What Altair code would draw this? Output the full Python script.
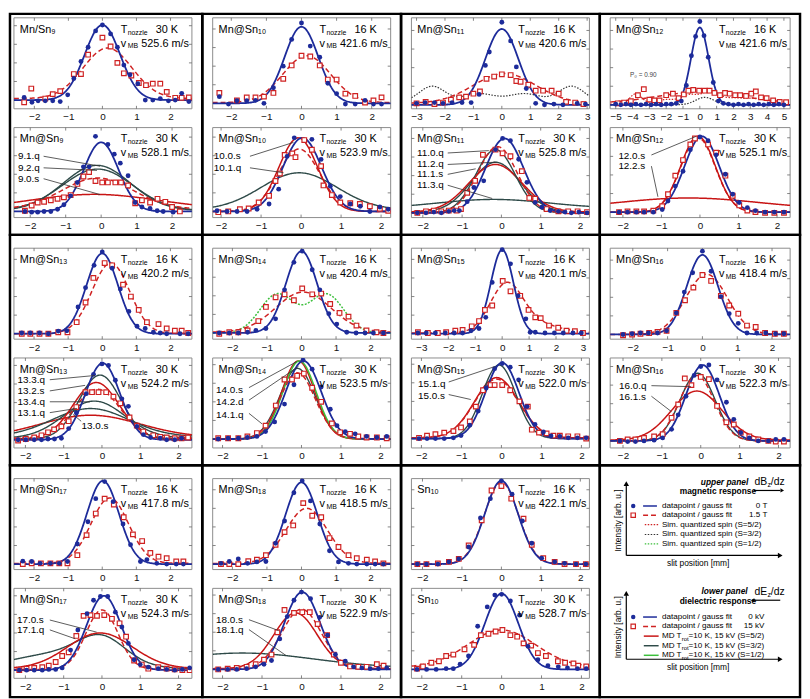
import altair as alt
import numpy as np
import pandas as pd

FONT = "Liberation Sans"
BLUE = "#1d2b9a"
RED = "#cf2222"
DARK = "#2e4a48"
GREEN = "#3cbf3c"

# ---------------- data (x in mm, y in arb. units) ----------------
# Mn/Sn9 upper
P1U_BX = [-2.30,-2.07,-1.89,-1.68,-1.46,-1.24,-1.02,-0.84,-0.63,-0.42,-0.20,0.0,0.24,0.44,0.63,0.81,1.04,1.26,1.48,1.70,1.94,2.14,2.33,2.54]
P1U_BY = [0.035,-0.03,-0.01,-0.01,-0.01,-0.02,0.07,0.29,0.52,0.71,0.93,1.01,0.89,0.71,0.47,0.34,0.22,0.0,0.0,0.02,-0.01,0.0,0.09,-0.02]
P1U_RX = [-2.30,-2.09,-1.68,-1.46,-1.24,-0.84,-0.63,-0.42,0.0,0.24,0.44,0.63,0.85,1.07,1.28,1.48,1.70,1.89,2.14,2.33,2.54]
P1U_RY = [-0.03,0.155,0.02,0.08,0.12,0.35,0.35,0.61,0.84,0.72,0.50,0.36,0.33,0.23,0.20,0.22,0.22,0.11,0.03,0.03,0.035]
# Mn@Sn9 lower
P1L_BX = [-2.15,-1.96,-1.79,-1.61,-1.42,-1.23,-1.05,-0.86,-0.67,-0.50,-0.34,-0.16,0.19,0.37,0.54,0.76,0.96,1.15,1.38,1.58,1.75,2.03]
P1L_BY = [0.0,-0.01,-0.01,0.0,0.0,0.03,0.09,0.21,0.39,0.60,0.60,1.01,0.90,0.77,0.65,0.48,0.12,0.06,0.04,0.01,0.0,-0.01]
P1L_RX = [-2.15,-1.96,-1.79,-1.61,-1.42,-1.23,-1.05,-0.86,-0.67,-0.50,-0.34,-0.16,0.03,0.19,0.40,0.56,0.76,0.96,1.15,1.38,1.59,1.81,2.0,2.22]
P1L_RY = [0.01,0.08,0.12,0.13,0.15,0.17,0.19,0.22,0.37,0.47,0.53,0.41,0.39,0.39,0.39,0.39,0.35,0.11,0.15,0.12,0.17,0.13,0.06,0.0]
# Mn@Sn10 upper
P2U_BX = [-2.34,-2.08,-1.84,-1.56,-1.31,-1.07,-0.80,-0.52,-0.28,0.0,0.25,0.52,0.75,1.0,1.25,1.53,1.81,2.05,2.28]
P2U_BY = [0.09,-0.01,0.035,0.035,0.04,0.0,0.21,0.50,0.86,1.08,0.77,0.62,0.27,0.13,-0.01,-0.01,0.04,-0.01,-0.01]
P2U_RX = [-2.34,-1.84,-1.56,-1.31,-1.07,-0.80,-0.52,-0.28,0.0,0.25,0.52,0.75,1.0,1.25,1.53,1.81,2.05,2.28]
P2U_RY = [0.14,0.04,0.08,0.08,0.09,0.14,0.33,0.51,0.64,0.63,0.51,0.32,0.32,0.13,0.10,0.01,0.04,0.08]
# Mn@Sn10 lower
P2L_BX = [-2.1,-1.85,-1.6,-1.35,-1.1,-0.8,-0.56,-0.35,-0.17,0.27,0.5,0.73,0.98,1.23,1.48,1.72,1.97,2.18]
P2L_BY = [0.01,0.0,0.0,0.0,0.03,0.10,0.30,0.74,0.99,0.97,0.70,0.34,0.20,0.10,0.07,0.0,0.06,0.03]
P2L_RX = [-2.07,-1.82,-1.53,-1.31,-1.06,-0.80,-0.64,-0.53,-0.41,-0.22,-0.14,0.08,0.27,0.5,0.56,0.77,0.98,1.23,1.47,1.72,1.97,2.18]
P2L_RY = [-0.01,0.0,0.03,0.04,0.12,0.21,0.41,0.51,0.76,0.78,0.73,0.96,0.83,0.61,0.35,0.22,0.12,0.11,0.10,0.07,0.035,0.01]
# Mn@Sn11 upper
P3U_BX = [-3.0,-2.7,-2.37,-2.07,-1.75,-1.4,-1.08,-0.8,-0.58,-0.44,0.0,0.31,0.51,0.86,1.19,1.5,1.83,2.15,2.65,2.94]
P3U_BY = [0.02,0.03,0.03,0.02,0.03,0.03,0.03,0.14,0.53,0.71,1.11,0.86,0.51,0.22,0.02,0.0,0.01,0.0,0.02,0.01]
P3U_RX = [-3.0,-2.68,-2.37,-2.07,-1.79,-1.5,-1.26,-1.0,-0.77,-0.54,-0.27,0.0,0.31,0.51,0.66,0.93,1.19,1.45,1.75,2.0,2.26,2.58,2.87]
P3U_RY = [0.02,0.04,0.01,0.03,0.07,0.10,0.11,0.15,0.18,0.35,0.38,0.41,0.40,0.32,0.31,0.27,0.19,0.19,0.19,0.15,0.04,0.03,0.01]
# Mn@Sn11 lower
P3L_BX = [-2.14,-1.92,-1.72,-1.53,-1.34,-1.2,-1.07,-0.87,-0.70,-0.45,-0.15,0.03,0.23,0.44,0.65,0.86,1.03,1.24,1.45,1.62,1.78,1.97,2.18]
P3L_BY = [0.0,0.0,0.01,0.0,0.02,0.03,0.03,0.15,0.34,0.43,0.85,1.0,0.97,0.72,0.41,0.14,0.075,0.03,0.02,0.01,0.0,0.01,0.0]
P3L_RX = [-2.14,-1.92,-1.72,-1.53,-1.34,-1.14,-1.03,-0.87,-0.67,-0.47,-0.15,0.03,0.23,0.52,0.71,0.86,1.15,1.45,1.70,1.94,2.18]
P3L_RY = [0.0,0.02,0.03,0.02,0.03,0.03,0.05,0.27,0.43,0.78,0.85,0.80,0.76,0.56,0.20,0.19,0.05,0.02,0.02,0.02,0.01]
# Mn@Sn12 upper
P4U_BX = [-5.0,-4.7,-4.4,-4.1,-3.8,-3.5,-3.2,-2.9,-2.6,-2.3,-2.0,-1.7,-1.4,-1.1,-0.8,-0.5,-0.25,0.0,0.25,0.5,0.8,1.1,1.4,1.7,2.0,2.3,2.6,2.9,3.2,3.5,3.8,4.1,4.4,4.7,5.0]
P4U_BY = [0.01,0.0,0.01,0.0,0.01,0.0,0.01,0.0,0.01,0.0,0.01,0.01,0.02,0.05,0.26,0.66,0.92,1.12,0.93,0.64,0.30,0.05,0.02,0.01,0.0,0.01,0.0,0.01,0.0,0.01,0.0,0.01,0.0,0.01,0.0]
P4U_RX = [-4.88,-4.5,-4.1,-3.68,-3.33,-3.0,-2.7,-2.4,-2.0,-1.6,-1.26,-0.95,-0.68,-0.39,-0.04,0.29,0.58,0.87,1.2,1.5,1.78,2.1,2.4,2.75,3.06,3.33,3.64,3.97,4.36,4.75,5.13]
P4U_RY = [0.02,0.03,0.05,0.13,0.21,0.07,0.06,0.06,0.13,0.15,0.09,0.14,0.19,0.20,0.19,0.19,0.19,0.16,0.13,0.16,0.15,0.13,0.13,0.12,0.15,0.18,0.10,0.09,0.06,0.04,0.035]
# Mn@Sn12 lower
P4L_BX = [-2.1,-1.88,-1.65,-1.45,-1.21,-0.98,-0.83,-0.64,-0.44,-0.25,0.0,0.21,0.42,0.66,0.85,1.02,1.23,1.44,1.69,1.93,2.18]
P4L_BY = [0.0,0.0,0.0,0.0,0.0,0.035,0.15,0.35,0.55,0.84,1.01,0.96,0.77,0.51,0.24,0.13,0.06,0.02,0.0,0.0,0.0]
P4L_RX = [-2.1,-1.88,-1.65,-1.45,-1.21,-0.98,-0.83,-0.64,-0.44,-0.25,-0.13,0.21,0.42,0.66,0.85,1.02,1.23,1.44,1.69,1.93,2.18]
P4L_RY = [0.0,0.01,0.01,0.01,0.02,0.08,0.24,0.49,0.70,0.91,0.99,0.91,0.80,0.49,0.22,0.09,0.02,0.0,-0.01,-0.01,-0.01]
# Mn@Sn13 upper
P5U_BX = [-2.36,-2.11,-1.84,-1.58,-1.29,-1.04,-0.71,-0.49,-0.24,0.0,0.29,0.53,0.78,1.02,1.26,1.5,1.7,1.89,2.28,2.52]
P5U_BY = [0.01,0.01,0.01,0.0,0.035,0.04,0.36,0.62,0.92,1.1,0.88,0.6,0.3,0.1,0.07,0.02,0.01,0.0,0.0,0.0]
P5U_RX = [-2.36,-2.11,-1.84,-1.58,-1.29,-1.02,-0.75,-0.49,-0.26,0.07,0.29,0.61,0.84,1.07,1.31,1.65,1.89,2.13,2.33,2.52]
P5U_RY = [0.0,0.0,0.0,0.0,0.02,0.02,0.155,0.42,0.75,0.95,0.92,0.66,0.50,0.32,0.155,0.13,0.07,0.04,0.04,0.01]
# Mn@Sn13 lower
P5L_BX = [-2.19,-1.99,-1.77,-1.58,-1.41,-1.24,-1.06,-0.87,-0.67,-0.41,-0.22,0.0,0.17,0.35,0.52,0.69,0.91,1.08,1.27,1.52,1.69,1.90,2.08]
P5L_BY = [0.0,0.0,0.0,0.0,0.01,0.01,0.02,0.15,0.36,0.62,0.88,1.02,1.0,0.8,0.55,0.45,0.18,0.07,0.03,0.02,0.0,0.0,0.02]
P5L_RX = [-2.19,-1.99,-1.77,-1.58,-1.41,-1.25,-1.06,-0.87,-0.67,-0.43,-0.26,-0.09,0.11,0.30,0.48,0.72,0.91,1.08,1.34,1.52,1.69,1.90,2.08,2.25]
P5L_RY = [-0.01,0.01,0.03,0.06,0.10,0.14,0.18,0.25,0.44,0.64,0.64,0.64,0.64,0.58,0.49,0.30,0.19,0.11,0.06,0.04,0.03,0.02,0.02,0.03]
# Mn@Sn14 upper
P6U_BX = [-2.38,-2.09,-1.83,-1.56,-1.32,-1.03,-0.75,-0.49,-0.22,0.02,0.31,0.53,0.79,1.02,1.31,1.58,1.84,2.08,2.37]
P6U_BY = [0.0,0.0,0.0,0.01,0.035,0.06,0.19,0.58,0.95,1.1,0.85,0.58,0.26,0.12,0.01,0.0,0.0,0.0,0.0]
P6U_RX = [-2.38,-2.09,-1.83,-1.56,-1.25,-1.03,-0.75,-0.49,-0.22,0.02,0.31,0.57,0.83,1.10,1.36,1.59,1.88,2.17,2.37]
P6U_RY = [-0.01,0.01,0.01,0.035,0.16,0.35,0.48,0.52,0.44,0.60,0.52,0.53,0.39,0.27,0.22,0.10,0.035,0.01,0.0]
# Mn@Sn14 lower
P6L_BX = [-2.11,-1.86,-1.60,-1.37,-1.13,-0.91,-0.68,-0.43,-0.19,0.04,0.27,0.50,0.73,0.90,1.11,1.36,1.65,1.91,2.16]
P6L_BY = [0.0,0.01,0.01,0.02,0.035,0.10,0.23,0.47,0.73,1.06,0.94,0.70,0.40,0.18,0.10,0.07,0.035,0.02,0.035]
P6L_RX = [-2.11,-1.86,-1.60,-1.37,-1.13,-0.91,-0.65,-0.43,-0.24,-0.11,0.06,0.27,0.50,0.77,0.98,1.23,1.44,1.65,1.91,2.16]
P6L_RY = [0.01,0.01,0.01,0.035,0.08,0.18,0.45,0.80,0.80,0.85,0.88,0.69,0.50,0.21,0.09,0.07,0.035,0.02,0.02,0.01]
# Mn@Sn15 upper
P7U_BX = [-3.13,-2.82,-2.48,-2.11,-1.78,-1.47,-1.16,-0.86,-0.61,-0.37,0.0,0.31,0.59,0.88,1.04,1.23,1.59,1.94,2.27,2.63,2.94]
P7U_BY = [0.01,0.01,0.01,0.01,0.01,0.01,0.04,0.07,0.22,0.69,1.13,0.94,0.51,0.20,0.02,0.02,0.01,0.01,0.01,0.01,0.01]
P7U_RX = [-3.13,-2.76,-2.39,-2.08,-1.74,-1.47,-1.13,-0.86,-0.64,-0.37,0.02,0.31,0.67,0.98,1.23,1.43,1.74,2.08,2.39,2.70,3.0]
P7U_RY = [0.02,0.01,0.01,0.02,0.04,0.05,0.10,0.17,0.32,0.38,0.71,0.57,0.51,0.32,0.22,0.21,0.11,0.08,0.04,0.035,0.01]
# Mn@Sn15 lower
P7L_BX = [-2.06,-1.86,-1.65,-1.43,-1.20,-1.01,-0.79,-0.58,-0.38,-0.17,0.02,0.22,0.43,0.64,0.84,1.05,1.24,1.46,1.67,1.90,2.12]
P7L_BY = [0.0,0.0,0.0,0.0,0.01,0.04,0.18,0.37,0.68,0.94,1.01,0.96,0.79,0.43,0.19,0.09,0.035,0.03,0.01,0.01,0.01]
P7L_RX = [-2.06,-1.86,-1.65,-1.43,-1.20,-1.01,-0.79,-0.64,-0.46,-0.27,-0.17,0.02,0.22,0.45,0.66,0.76,0.94,1.13,1.30,1.46,1.67,1.90,2.12]
P7L_RY = [0.01,0.04,0.06,0.08,0.10,0.15,0.23,0.43,0.65,0.72,0.72,0.72,0.65,0.50,0.43,0.12,0.08,0.07,0.04,0.04,0.03,0.03,0.0]
# Mn@Sn16 upper
P8U_BX = [-2.28,-2.02,-1.78,-1.55,-1.29,-1.03,-0.75,-0.52,-0.28,0.0,0.25,0.53,0.77,1.03,1.28,1.56,1.82,2.10,2.34]
P8U_BY = [0.0,0.01,0.02,0.02,0.02,0.05,0.29,0.57,0.83,1.12,0.85,0.51,0.28,0.15,0.02,0.02,0.02,0.01,0.01]
P8U_RX = [-2.28,-2.02,-1.78,-1.53,-1.29,-1.03,-0.75,-0.50,-0.26,0.0,0.25,0.53,0.77,1.03,1.28,1.53,1.80,2.08,2.34]
P8U_RY = [-0.01,0.0,0.01,0.02,0.035,0.05,0.29,0.46,0.63,0.80,0.72,0.52,0.39,0.28,0.12,0.10,0.02,0.01,0.01]
# Mn@Sn16 lower
P8L_BX = [-2.08,-1.88,-1.68,-1.46,-1.20,-0.98,-0.75,-0.58,-0.38,-0.17,0.0,0.21,0.42,0.66,0.85,1.03,1.25,1.48,1.74,1.93,2.14]
P8L_BY = [0.0,-0.01,-0.01,0.0,0.01,0.04,0.155,0.35,0.60,0.88,1.0,1.02,0.82,0.52,0.29,0.11,0.04,0.0,0.0,0.02,0.02]
P8L_RX = [-2.08,-1.88,-1.68,-1.46,-1.20,-0.98,-0.75,-0.58,-0.41,-0.24,0.0,0.21,0.42,0.66,0.85,1.03,1.25,1.48,1.74,1.93,2.14]
P8L_RY = [0.0,0.02,0.02,0.04,0.06,0.09,0.31,0.49,0.84,0.75,0.86,0.83,0.47,0.25,0.22,0.11,0.06,0.02,0.0,-0.01,-0.01]
# Mn@Sn17 upper
P9U_BX = [-2.33,-2.07,-1.82,-1.52,-1.26,-1.02,-0.73,-0.42,-0.19,0.07,0.32,0.61,0.83,1.12,1.31,1.60,1.89,2.17,2.38]
P9U_BY = [0.04,0.035,0.01,0.01,0.01,0.035,0.27,0.57,0.88,1.11,0.84,0.54,0.26,0.035,0.06,0.01,0.0,0.0,0.0]
P9U_RX = [-2.33,-2.07,-1.80,-1.52,-1.26,-1.02,-0.73,-0.46,-0.19,0.07,0.34,0.63,0.90,1.17,1.41,1.65,1.89,2.17,2.38]
P9U_RY = [0.0,0.01,0.01,0.01,0.01,0.01,0.12,0.39,0.68,0.88,0.80,0.63,0.40,0.31,0.15,0.10,0.08,0.035,0.035]
# Mn@Sn17 lower
P9L_BX = [-2.16,-1.97,-1.77,-1.56,-1.39,-1.21,-1.04,-0.82,-0.63,-0.39,-0.22,-0.04,0.15,0.35,0.52,0.69,0.84,1.0,1.21,1.47,1.69,1.90,2.10,2.29]
P9L_BY = [0.0,0.0,0.0,0.0,0.01,0.01,0.03,0.27,0.54,0.76,0.94,0.99,0.99,0.78,0.58,0.36,0.14,0.075,0.04,0.02,0.01,0.0,0.01,0.03]
P9L_RX = [-2.16,-1.97,-1.77,-1.56,-1.39,-1.21,-1.04,-0.87,-0.67,-0.48,-0.30,-0.13,0.06,0.26,0.46,0.63,0.84,1.04,1.21,1.47,1.69,1.90,2.10,2.29]
P9L_RY = [0.0,0.02,0.03,0.04,0.06,0.11,0.19,0.24,0.46,0.73,0.74,0.73,0.74,0.69,0.63,0.45,0.13,0.075,0.02,0.04,0.02,0.01,0.0,0.0]
# Mn@Sn18 upper
P10U_BX = [-2.33,-2.09,-1.83,-1.56,-1.29,-1.03,-0.75,-0.49,-0.22,0.02,0.26,0.53,0.81,1.07,1.36,1.60,1.89,2.13,2.37]
P10U_BY = [0.01,0.035,0.07,0.01,0.03,0.035,0.28,0.58,0.96,1.12,0.85,0.54,0.18,0.03,0.01,0.0,0.0,0.0,0.0]
P10U_RX = [-2.33,-2.09,-1.83,-1.54,-1.29,-1.03,-0.75,-0.49,-0.24,0.05,0.31,0.57,0.81,1.07,1.36,1.60,1.89,2.13,2.37]
P10U_RY = [0.0,0.0,0.0,0.04,0.06,0.12,0.26,0.43,0.52,0.82,0.65,0.63,0.35,0.23,0.12,0.08,0.06,0.035,0.01]
# Mn@Sn18 lower
P10L_BX = [-2.11,-1.87,-1.64,-1.39,-1.16,-0.95,-0.76,-0.55,-0.36,-0.19,0.0,0.23,0.46,0.66,0.86,1.11,1.32,1.53,1.74,1.95,2.16]
P10L_BY = [0.0,0.0,0.0,0.01,0.035,0.07,0.12,0.41,0.71,0.93,1.04,0.95,0.70,0.46,0.20,0.11,0.035,0.02,0.01,0.01,0.02]
P10L_RX = [-2.11,-1.87,-1.64,-1.39,-1.16,-0.95,-0.76,-0.61,-0.43,-0.19,0.02,0.21,0.41,0.65,0.82,1.0,1.23,1.44,1.65,1.91,2.08]
P10L_RY = [0.0,0.01,0.02,0.035,0.07,0.13,0.20,0.50,0.80,0.76,0.77,0.77,0.61,0.46,0.20,0.09,0.04,0.035,0.035,0.07,0.05]
# Sn10 upper
P11U_BX = [-2.13,-1.90,-1.61,-1.33,-1.08,-0.83,-0.53,-0.28,0.0,0.27,0.53,0.77,1.02,1.35,1.60,1.89,2.14]
P11U_BY = [0.0,0.0,0.0,0.03,0.07,0.23,0.62,0.88,1.12,0.94,0.58,0.28,0.08,0.03,0.01,0.0,0.0]
P11U_RX = [-2.13,-1.90,-1.61,-1.33,-1.08,-0.83,-0.50,-0.25,0.0,0.25,0.56,0.77,1.06,1.35,1.60,1.89,2.14]
P11U_RY = [0.0,0.0,0.01,0.03,0.07,0.25,0.59,0.99,1.05,0.88,0.61,0.26,0.08,0.03,0.0,0.0,0.0]
# Sn10 lower
P11L_BX = [-2.12,-1.88,-1.64,-1.39,-1.21,-1.04,-0.83,-0.60,-0.36,-0.17,0.0,0.22,0.45,0.66,0.91,1.16,1.42,1.65,1.90,2.12]
P11L_BY = [0.0,0.0,0.0,0.01,0.01,0.07,0.18,0.58,0.84,1.0,1.01,0.92,0.73,0.31,0.13,0.05,0.035,0.02,0.01,0.01]
P11L_RX = [-2.12,-1.97,-1.76,-1.57,-1.39,-1.21,-0.93,-0.69,-0.52,-0.33,-0.15,0.02,0.22,0.39,0.55,0.74,0.91,1.11,1.41,1.59,1.80,1.92,2.12]
P11L_RY = [0.01,0.04,0.09,0.11,0.18,0.20,0.27,0.33,0.46,0.48,0.51,0.53,0.46,0.44,0.35,0.32,0.22,0.18,0.11,0.09,0.08,0.05,0.04]

# Gaussian fit / simulation parameters: (style, offset, [(amplitude, centre, sigma), ...])
P1U_FIT = [("rdash", 0.02, [(0.68, 0.15, 0.72)]), ("blue", 0.0, [(1.01, 0.0, 0.52)])]
P1L_FIT = [("red", 0.03, [(0.2, -0.2, 1.8)]), ("dark", 0.01, [(0.61, -0.12, 0.95)]), ("dark", 0.01, [(0.56, -0.1, 1.0)]),
           ("rdash", 0.03, [(0.42, -0.1, 1.0)]), ("blue", 0.0, [(0.93, 0.0, 0.49)])]
P2U_FIT = [("rdash", 0.01, [(0.63, 0.15, 0.68)]), ("blue", 0.0, [(1.03, 0.0, 0.48)])]
P2L_FIT = [("dark", 0.02, [(0.5, -0.05, 0.95)]), ("rdash", 0.0, [(0.84, -0.05, 0.52)]), ("red", 0.0, [(0.99, -0.07, 0.48)]),
           ("blue", 0.0, [(0.99, 0.03, 0.48)])]
P3U_FIT = [("kdot", 0.04, [(0.21, -2.45, 0.45), (0.21, 2.45, 0.45), (0.11, -0.8, 0.55), (0.11, 0.8, 0.55)]),
           ("rdash", 0.02, [(0.40, 0.1, 1.1)]), ("blue", 0.0, [(1.02, 0.0, 0.58)])]
P3L_FIT = [("dark", 0.06, [(0.12, -0.2, 1.4)]), ("dark", 0.01, [(0.67, -0.15, 0.62)]), ("red", 0.01, [(0.64, -0.15, 0.68)]),
           ("dark", 0.0, [(0.85, -0.15, 0.5)]), ("rdash", 0.0, [(0.89, -0.1, 0.5)]), ("blue", 0.0, [(1.0, 0.08, 0.48)])]
P4U_FIT = [("kdot", 0.0, [(0.10, 0.3, 0.55)]),
           ("rdot", 0.01, [(0.14, -3.8, 0.35), (0.06, -2.0, 0.6), (0.12, -0.6, 0.5), (0.15, 0.6, 0.5), (0.08, 2.0, 0.8), (0.06, 3.5, 0.6)]),
           ("rdash", 0.02, [(0.15, 0.0, 2.6)]), ("blue", 0.0, [(1.04, 0.0, 0.52)])]
P4L_FIT = [("red", 0.04, [(0.15, -0.3, 1.8)]), ("rdash", 0.0, [(1.0, -0.05, 0.45)]), ("red", 0.0, [(1.02, -0.05, 0.45)]),
           ("blue", 0.0, [(1.02, 0.05, 0.45)])]
P5U_FIT = [("rdash", 0.0, [(0.95, 0.25, 0.55)]), ("blue", 0.0, [(1.08, 0.0, 0.46)])]
P5L_FIT = [("red", 0.03, [(0.3, -0.3, 1.3)]), ("dark", 0.04, [(0.38, -0.3, 1.0)]), ("dark", 0.02, [(0.5, -0.2, 0.8)]),
           ("red", 0.01, [(0.76, -0.15, 0.6)]), ("dark", 0.01, [(0.86, -0.05, 0.55)]), ("rdash", 0.02, [(0.66, -0.12, 0.6)]),
           ("blue", 0.0, [(1.03, 0.02, 0.45)])]
P6U_FIT = [("gdot", 0.0, [(0.52, -0.7, 0.5), (0.52, 0.72, 0.5)]), ("rdash", 0.01, [(0.54, 0.05, 0.8)]), ("blue", 0.0, [(1.1, 0.0, 0.45)])]
P6L_FIT = [("dark", 0.0, [(0.95, -0.1, 0.45)]), ("red", 0.0, [(1.05, -0.08, 0.42)]), ("green", 0.0, [(1.05, -0.05, 0.42)]),
           ("rdash", 0.0, [(0.89, -0.1, 0.45)]), ("blue", 0.0, [(1.05, 0.05, 0.45)])]
P7U_FIT = [("rdash", 0.01, [(0.62, 0.15, 0.6), (0.12, 1.2, 0.9)]), ("blue", 0.0, [(1.13, 0.0, 0.42)])]
P7L_FIT = [("red", 0.01, [(0.81, -0.12, 0.55)]), ("rdash", 0.01, [(0.79, -0.12, 0.55)]), ("dark", 0.0, [(0.99, -0.06, 0.42)]),
           ("blue", 0.0, [(1.02, 0.02, 0.42)])]
P8U_FIT = [("rdash", 0.0, [(0.81, 0.12, 0.6)]), ("blue", 0.0, [(1.07, 0.0, 0.45)])]
P8L_FIT = [("red", 0.01, [(0.66, -0.1, 0.65)]), ("dark", 0.0, [(0.91, -0.08, 0.45)]), ("rdash", 0.0, [(0.88, -0.1, 0.45)]),
           ("blue", 0.0, [(1.02, 0.05, 0.43)])]
P9U_FIT = [("rdash", 0.01, [(0.88, 0.22, 0.55)]), ("blue", 0.0, [(1.12, 0.02, 0.47)])]
P9L_FIT = [("dark", 0.01, [(0.3, 0.0, 0.6), (0.22, -1.0, 1.3)]), ("red", 0.02, [(0.48, -0.05, 0.85)]),
           ("rdash", 0.01, [(0.8, 0.0, 0.42)]), ("blue", 0.0, [(1.0, 0.05, 0.45)])]
P10U_FIT = [("rdash", 0.01, [(0.74, 0.15, 0.6)]), ("blue", 0.0, [(1.1, 0.0, 0.46)])]
P10L_FIT = [("dark", 0.02, [(0.2, -1.5, 1.8)]), ("red", 0.01, [(0.75, -0.15, 0.55)]), ("rdash", 0.01, [(0.8, 0.0, 0.5)]),
            ("blue", 0.0, [(1.04, 0.02, 0.45)])]
P11U_FIT = [("rdash", 0.0, [(1.1, 0.0, 0.43)]), ("blue", 0.0, [(1.12, 0.0, 0.42)])]
P11L_FIT = [("rdash", 0.03, [(0.5, 0.0, 0.85)]), ("blue", 0.0, [(1.02, 0.0, 0.42)])]

TICKS2 = [-2, -1, 0, 1, 2]
TICKS3 = [-3, -2, -1, 0, 1, 2, 3]
TICKS5 = [-5, -4, -3, -2, -1, 0, 1, 2, 3, 4, 5]
YTICKS = [0.0, 0.25, 0.5, 0.75, 1.0]

# ---------------- styles ----------------
STYLE = {
    "blue": dict(color=BLUE, strokeWidth=1.8),
    "rdash": dict(color=RED, strokeWidth=1.5, strokeDash=[5, 3]),
    "red": dict(color="#c81414", strokeWidth=1.5),
    "dark": dict(color=DARK, strokeWidth=1.4),
    "green": dict(color=GREEN, strokeWidth=1.5),
    "rdot": dict(color=RED, strokeWidth=1.2, strokeDash=[1.5, 1.5]),
    "kdot": dict(color="#333333", strokeWidth=1.2, strokeDash=[1.5, 1.5]),
    "gdot": dict(color=GREEN, strokeWidth=1.5, strokeDash=[2, 1.5]),
}
PX_PER_UNIT = 75.2
FRAME = "#8c8c8c"
ONE = pd.DataFrame({"k": [0]})


def curve_df(xd, off, comps, n=220):
    xs = np.linspace(xd[0], xd[1], n)
    ys = np.full(n, off, dtype=float)
    for a, c, s in comps:
        ys = ys + a * np.exp(-(xs - c) ** 2 / (2 * s * s))
    return pd.DataFrame({"x": xs, "y": ys})


def T(s, x, y, size=11, align="left", weight="normal", style="normal", angle=None, color="black"):
    kw = dict(text=s, align=align, baseline="middle", fontSize=size, font=FONT, color=color,
              fontWeight=weight, fontStyle=style)
    if angle is not None:
        kw["angle"] = angle
    return alt.Chart(ONE).mark_text(**kw).encode(x=alt.value(x), y=alt.value(y))


def R(x1, y1, x2, y2, color="#333333", width=0.8, dash=None):
    kw = dict(color=color, strokeWidth=width)
    if dash:
        kw["strokeDash"] = dash
    return alt.Chart(ONE).mark_rule(**kw).encode(x=alt.value(x1), y=alt.value(y1), x2=alt.value(x2), y2=alt.value(y2))


def box(l, t, r, b, color="black", width=2.5):
    return alt.Chart(ONE).mark_rect(fill="white", fillOpacity=0, stroke=color, strokeWidth=width).encode(
        x=alt.value(l), y=alt.value(t), x2=alt.value(r), y2=alt.value(b))


def subpanel(p, w, h, top, extra=()):
    span = h / PX_PER_UNIT
    ybot = p["yt"] - span
    ytop = p["yt"] + top / PX_PER_UNIT
    X = alt.X("x:Q", scale=alt.Scale(domain=p["xd"], nice=False, zero=False),
              axis=alt.Axis(values=p["ticks"], format="d", title=None))
    Y = alt.Y("y:Q", scale=alt.Scale(domain=[ybot, ytop], nice=False, zero=False), axis=None)
    layers = [box(0, top, w, top + h, color=FRAME, width=1)]
    tdf = pd.DataFrame({"x": p["ticks"]})
    layers.append(alt.Chart(tdf).mark_rule(color="#666666", strokeWidth=0.8).encode(
        x=X, y=alt.value(top + h), y2=alt.value(top + h - 3)))
    layers.append(alt.Chart(tdf).mark_rule(color="#666666", strokeWidth=0.8).encode(
        x=X, y=alt.value(top), y2=alt.value(top + 3)))
    ydf = pd.DataFrame({"y": [v for v in YTICKS if ybot < v < p["yt"]]})
    layers.append(alt.Chart(ydf).mark_rule(color="#666666", strokeWidth=0.8).encode(
        y=Y, x=alt.value(0), x2=alt.value(3)))
    layers.append(alt.Chart(ydf).mark_rule(color="#666666", strokeWidth=0.8).encode(
        y=Y, x=alt.value(w - 3), x2=alt.value(w)))
    for style, off, comps in p["fit"]:
        layers.append(alt.Chart(curve_df(p["xd"], off, comps)).mark_line(clip=True, **STYLE[style]).encode(x=X, y=Y))
    layers.append(alt.Chart(pd.DataFrame({"x": p["rx"], "y": p["ry"]})).mark_point(
        shape="square", filled=True, fill="white", stroke=RED, strokeWidth=1.2, size=22, opacity=1, clip=True
    ).encode(x=X, y=Y))
    layers.append(alt.Chart(pd.DataFrame({"x": p["bx"], "y": p["by"]})).mark_circle(
        color=BLUE, size=24, opacity=1, clip=True).encode(x=X, y=Y))
    layers += [T(p["name"], 6, top + 12), T("T", w - 72, top + 12), T("nozzle", w - 65, top + 15, size=7),
               T(p["T"], w - 14, top + 12, align="right"), T("v", w - 72, top + 26),
               T("MB", w - 65, top + 29, size=7), T(p["v"] + " m/s", w - 3, top + 26, align="right")]
    for ld in p.get("leaders", []):
        lab, tx, ty, x1, y1, x2, y2 = ld[:7]
        al = ld[7] if len(ld) > 7 else "left"
        layers.append(R(x1, y1 + top, x2, y2 + top))
        layers.append(T(lab, tx, ty + top, size=10, align=al))
    layers += list(extra)
    return alt.layer(*layers).properties(width=w, height=h + top)


def P(name, tv, vv, xd, yt, ticks, bx, by, rx, ry, fit, leaders=()):
    return dict(name=name, T=tv, v=vv, xd=xd, yt=yt, ticks=ticks, bx=bx, by=by, rx=rx, ry=ry, fit=fit, leaders=list(leaders))


CELLS = [
    [
        (P("Mn/Sn₉", "30 K", "525.6", [-2.6, 2.63], 1.106, TICKS2, P1U_BX, P1U_BY, P1U_RX, P1U_RY, P1U_FIT),
         P("Mn@Sn₉", "30 K", "528.1", [-2.46, 2.56], 1.128, TICKS2, P1L_BX, P1L_BY, P1L_RX, P1L_RY, P1L_FIT,
           [("9.1.q", 4, 29, 30, 29, 87, 39), ("9.2.q", 4, 40.7, 30, 40.7, 84, 43.3), ("9.0.s", 4, 51.7, 30, 51.7, 87, 67.7)])),
        (P("Mn@Sn₁₀", "16 K", "421.6", [-2.53, 2.54], 1.15, TICKS2, P2U_BX, P2U_BY, P2U_RX, P2U_RY, P2U_FIT),
         P("Mn@Sn₁₀", "30 K", "523.9", [-2.21, 2.24], 1.128, TICKS2, P2L_BX, P2L_BY, P2L_RX, P2L_RY, P2L_FIT,
           [("10.0.s", 1, 29, 37.7, 29, 81.7, 15), ("10.1.q", 1, 40.7, 37.7, 40.7, 71.7, 45.7)])),
        (P("Mn@Sn₁₁", "16 K", "420.6", [-3.18, 3.08], 1.17, TICKS3, P3U_BX, P3U_BY, P3U_RX, P3U_RY, P3U_FIT),
         P("Mn@Sn₁₁", "30 K", "525.8", [-2.29, 2.24], 1.146, TICKS2, P3L_BX, P3L_BY, P3L_RX, P3L_RY, P3L_FIT,
           [("11.0.q", 5.7, 25.7, 36.7, 25.7, 78.3, 23.3), ("11.2.q", 5.7, 37.3, 36.7, 37.3, 85, 35),
            ("11.1.s", 5.7, 47.3, 36.7, 47.3, 65, 41.7), ("11.3.q", 5.7, 58.3, 36.7, 58.3, 81.7, 71.7)])),
        (P("Mn@Sn₁₂", "16 K", "421.6", [-5.33, 5.37], 1.17, TICKS5, P4U_BX, P4U_BY, P4U_RX, P4U_RY, P4U_FIT),
         P("Mn@Sn₁₂", "30 K", "525.1", [-2.33, 2.34], 1.137, TICKS2, P4L_BX, P4L_BY, P4L_RX, P4L_RY, P4L_FIT,
           [("12.0.s", 8.3, 28.5, 41.7, 27.7, 86.7, 9), ("12.2.s", 8.3, 39, 41.7, 39, 48.3, 70)])),
    ],
    [
        (P("Mn@Sn₁₃", "16 K", "420.2", [-2.59, 2.63], 1.15, TICKS2, P5U_BX, P5U_BY, P5U_RX, P5U_RY, P5U_FIT),
         P("Mn@Sn₁₃", "30 K", "524.2", [-2.3, 2.35], 1.10, TICKS2, P5L_BX, P5L_BY, P5L_RX, P5L_RY, P5L_FIT,
           [("13.3.q", 3.7, 22, 36.3, 22, 82, 17.7), ("13.2.s", 3.7, 33.3, 36.3, 33.3, 72, 27.7),
            ("13.4.q", 3.7, 44.3, 36.3, 44.3, 77, 44.3), ("13.1.q", 3.7, 55.3, 36.3, 55.3, 63.7, 51),
            ("13.0.s", 82, 68.7, 68, 64, 59.7, 57, "center")])),
        (P("Mn@Sn₁₄", "16 K", "420.4", [-2.57, 2.58], 1.14, TICKS2, P6U_BX, P6U_BY, P6U_RX, P6U_RY, P6U_FIT),
         P("Mn@Sn₁₄", "30 K", "523.5", [-2.25, 2.26], 1.09, TICKS2, P6L_BX, P6L_BY, P6L_RX, P6L_RY, P6L_FIT,
           [("14.0.s", 3.3, 32.7, 36.7, 30, 85, 3.7), ("14.2.d", 3.3, 45, 36.7, 42.7, 86.7, 8.7),
            ("14.1.q", 3.3, 57.7, 36.7, 56, 50, 66.7)])),
        (P("Mn@Sn₁₅", "16 K", "420.1", [-3.37, 3.24], 1.15, TICKS3, P7U_BX, P7U_BY, P7U_RX, P7U_RY, P7U_FIT),
         P("Mn@Sn₁₅", "30 K", "522.0", [-2.25, 2.2], 1.084, TICKS2, P7L_BX, P7L_BY, P7L_RX, P7L_RY, P7L_FIT,
           [("15.1.q", 6.7, 26, 37.7, 24.3, 84.3, 8.7), ("15.0.s", 6.7, 38.3, 37.7, 37, 60, 42)])),
        (P("Mn@Sn₁₆", "16 K", "418.4", [-2.65, 2.52], 1.16, TICKS2, P8U_BX, P8U_BY, P8U_RX, P8U_RY, P8U_FIT),
         P("Mn@Sn₁₆", "30 K", "522.3", [-2.33, 2.3], 1.115, TICKS2, P8L_BX, P8L_BY, P8L_RX, P8L_RY, P8L_FIT,
           [("16.0.q", 9, 28.7, 41.7, 28, 81.7, 29), ("16.1.s", 9, 39.3, 41.7, 38.7, 62, 54.3)])),
    ],
    [
        (P("Mn@Sn₁₇", "16 K", "417.8", [-2.59, 2.63], 1.15, TICKS2, P9U_BX, P9U_BY, P9U_RX, P9U_RY, P9U_FIT),
         P("Mn@Sn₁₇", "30 K", "524.3", [-2.3, 2.35], 1.10, TICKS2, P9L_BX, P9L_BY, P9L_RX, P9L_RY, P9L_FIT,
           [("17.0.s", 3, 32, 36.3, 32, 83.7, 44.3), ("17.1.q", 3, 42, 36.3, 42, 62, 51)])),
        (P("Mn@Sn₁₈", "16 K", "418.5", [-2.57, 2.58], 1.15, TICKS2, P10U_BX, P10U_BY, P10U_RX, P10U_RY, P10U_FIT),
         P("Mn@Sn₁₈", "30 K", "522.9", [-2.25, 2.26], 1.09, TICKS2, P10L_BX, P10L_BY, P10L_RX, P10L_RY, P10L_FIT,
           [("18.0.s", 3.3, 31.7, 36.7, 31.7, 66.7, 42.7), ("18.1.q", 3.3, 41.7, 36.7, 41.7, 74.3, 68)])),
        (P("Sn₁₀", "16 K", "422.1", [-2.28, 2.23], 1.15, TICKS2, P11U_BX, P11U_BY, P11U_RX, P11U_RY, P11U_FIT),
         P("Sn₁₀", "30 K", "528.7", [-2.26, 2.2], 1.09, TICKS2, P11L_BX, P11L_BY, P11L_RX, P11L_RY, P11L_FIT)),
        None,
    ],
]

WIDTHS = [180, 180, 180, 182]
HU, HL, GAP, GAP_COL = 92, 91, 19, 21
TOPS = [5, 12, 12]


def border_for(r, c, w, top):
    l = -4 if c == 0 else -10.5
    rr = w + 10 if c == 3 else w + 10.5
    t = top - 4 if r == 0 else top - 13.5
    b = top + (221 if r == 2 else 219.5)
    return box(l, t, rr, b)


def tri(shape, x, y, size):
    return alt.Chart(ONE).mark_point(shape=shape, filled=True, color="black", size=size, opacity=1).encode(
        x=alt.value(x), y=alt.value(y))


LEG_FS = 8.2


def legend_part(w, h, y0, upper, brd=None):
    L = [] if brd is None else [brd]
    if upper:
        y_top, y_ax, lab1, lab2, grad = 3.0, 77.7, "upper panel", "magnetic response", "B"
        ys = [27.7, 37, 46.5, 56.5, 66]
    else:
        y_top, y_ax, lab1, lab2, grad = 3.0, 71.7, "lower panel", "dielectric response", "E"
        ys = [29, 38.5, 48.3, 58, 67.7]
    y_top += y0
    y_ax += y0
    ys = [v + y0 for v in ys]
    L.append(R(16.3, y_ax, 16.3, y_top + 4, color="black", width=1.2))
    L.append(R(16.3, y_ax, 170, y_ax, color="black", width=1.2))
    L.append(tri("triangle-up", 16.3, y_top + 2, 30))
    L.append(tri("triangle-right", 172, y_ax, 30))
    L.append(T("Intensity [arb. u.]", 8, (y_top + y_ax) / 2 + 2, size=8.5, align="center", angle=270))
    L.append(T("slit position [mm]", 89, y_ax + 7.5, size=8.5, align="center"))
    L.append(T(lab1, 115.7, y_top, size=8.5, align="center", weight="bold", style="italic"))
    L.append(T(lab2, 109, y_top + 9.5, size=8.5, align="center", weight="bold"))
    L.append(T("d" + grad, 146, y_top + 0.5, size=10.5))
    L.append(T("z", 159, y_top + 3.5, size=7))
    L.append(T("/dz", 162.5, y_top + 0.5, size=10.5))
    ya = y_top + 9
    L.append(R(145, ya, 172, ya, color="black", width=1.2))
    if upper:
        L.append(tri("triangle-right", 174, ya, 18))
    else:
        L.append(tri("triangle-left", 144, ya, 18))
    L.append(alt.Chart(ONE).mark_circle(color=BLUE, size=20, opacity=1).encode(x=alt.value(23.3), y=alt.value(ys[0])))
    L.append(R(33.3, ys[0], 47.3, ys[0], color=BLUE, width=1.5))
    L.append(alt.Chart(ONE).mark_point(shape="square", filled=True, fill="white", stroke=RED, strokeWidth=1.2, size=20,
                                       opacity=1).encode(x=alt.value(23.3), y=alt.value(ys[1])))
    L.append(R(33.3, ys[1], 47.3, ys[1], color=RED, width=1.5, dash=[5, 3]))
    L.append(T("datapoint / gauss fit", 52.3, ys[0], size=LEG_FS))
    L.append(T("datapoint / gauss fit", 52.3, ys[1], size=LEG_FS))
    if upper:
        L.append(R(35, ys[2], 49, ys[2], color=RED, width=1.2, dash=[1.5, 1.5]))
        L.append(R(35, ys[3], 49, ys[3], color="#333333", width=1.2, dash=[1.5, 1.5]))
        L.append(R(35, ys[4], 49, ys[4], color=GREEN, width=1.3, dash=[1.5, 1.5]))
        L.append(T("0 T", 159, ys[0], size=LEG_FS, align="right"))
        L.append(T("1.5 T", 159, ys[1], size=LEG_FS, align="right"))
        for yy, s in zip(ys[2:], ["5/2", "3/2", "1/2"]):
            L.append(T("Sim. quantized spin (S=" + s + ")", 52.3, yy, size=LEG_FS))
    else:
        L.append(R(34, ys[2], 49, ys[2], color="#c81414", width=1.5))
        L.append(R(34, ys[3], 49, ys[3], color=DARK, width=1.5))
        L.append(R(34, ys[4], 49, ys[4], color=GREEN, width=1.5))
        L.append(T("0 kV", 156, ys[0], size=LEG_FS, align="right"))
        L.append(T("15 kV", 156, ys[1], size=LEG_FS, align="right"))
        for yy, s in zip(ys[2:], ["5/2", "3/2", "1/2"]):
            L.append(T("MD T", 52.3, yy, size=LEG_FS))
            L.append(T("rot", 72.3, yy + 2.5, size=6))
            L.append(T("=10 K, 15 kV (S=" + s + ")", 79.3, yy, size=LEG_FS))
    return alt.layer(*L).properties(width=w, height=h)


charts = []
for r, row in enumerate(CELLS):
    top = TOPS[r]
    ups, los = [], []
    for c, pair in enumerate(row):
        w = WIDTHS[c]
        brd = border_for(r, c, w, top)
        if pair is None:
            ups.append(legend_part(w, HU + top, top, True, brd))
            los.append(legend_part(w, HL, 0, False))
            continue
        up, lo = pair
        extra = [brd]
        if r == 0 and c == 3:
            extra.append(T("P₀ = 0.90", 20, top + 58, size=6.5, color="#444444"))
        ups.append(subpanel(up, w, HU, top, extra))
        los.append(subpanel(lo, w, HL, 0))
    charts += ups + los

chart = alt.concat(*charts, columns=4, spacing={"row": GAP, "column": GAP_COL}, bounds="flush", align="each").properties(
    padding={"left": 0, "top": 0, "right": 0, "bottom": 0}, background="white"
).configure_axis(
    labelFont=FONT, labelFontSize=10, labelColor="#111111", domain=False, ticks=False, grid=False, labelPadding=3
).configure_view(stroke="transparent", strokeWidth=0)

chart.save("out.html", embed_options={"renderer": "svg", "actions": False})
